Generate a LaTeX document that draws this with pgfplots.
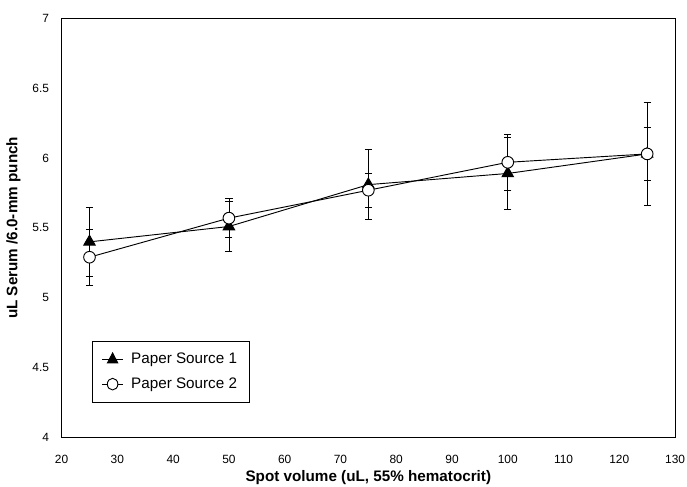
\documentclass[border=0pt]{standalone}
\usepackage{pgfplots}
\pgfplotsset{compat=1.18}
\usepackage{fontspec}
\setmainfont{Liberation Sans}

\pgfplotstableread{
x   y    ey
25  5.40 0.25
50  5.51 0.18
75  5.81 0.25
100 5.89 0.26
125 6.03 0.37
}\sourceone

\pgfplotstableread{
x   y    ey
25  5.29 0.20
50  5.57 0.14
75  5.77 0.12
100 5.97 0.20
125 6.03 0.19
}\sourcetwo

\begin{document}
\begin{tikzpicture}
\begin{axis}[
    name=ax,
    scale only axis,
    width=463pt, height=316pt,
    xmin=20, xmax=130, ymin=4, ymax=7,
    xtick={20,30,40,50,60,70,80,90,100,110,120,130},
    ytick={4,4.5,5,5.5,6,6.5,7},
    axis line style={line width=0.7pt},
    major tick length=0pt,
    /pgf/number format/assume math mode=true,
    ticklabel style={font=\fontsize{9}{10}\selectfont},
    xticklabel style={yshift=-10pt},
    yticklabel style={xshift=-6pt},
    xlabel={Spot volume (uL, 55\% hematocrit)},
    ylabel={uL Serum /6.0-mm punch},
    label style={font=\bfseries\fontsize{11.5}{13}\selectfont},
    xlabel style={yshift=2pt},
    ylabel style={yshift=2pt},
    legend style={at={(0.05,0.23)}, anchor=north west,
        font=\fontsize{11.5}{13}\selectfont, draw=black, line width=0.6pt,
        inner xsep=7pt, inner ysep=7pt, row sep=5pt, column sep=4pt},
    legend cell align=left,
    legend image post style={xscale=0.9},
]
\addplot[black, line width=0.7pt, mark=triangle*, mark size=5pt,
    mark options={fill=black, solid},
    error bars/.cd, y dir=both, y explicit,
    error bar style={line width=0.6pt, black},
    error mark options={rotate=90, mark size=2.7pt, line width=0.6pt, black}]
    table[x=x, y=y, y error=ey] {\sourceone};
\addlegendentry{Paper Source 1}
\addplot[black, line width=0.7pt, mark=*, mark size=4.4pt,
    mark options={fill=white, draw=black, solid},
    error bars/.cd, y dir=both, y explicit,
    error bar style={line width=0.6pt, black},
    error mark options={rotate=90, mark size=2.7pt, line width=0.6pt, black}]
    table[x=x, y=y, y error=ey] {\sourcetwo};
\addlegendentry{Paper Source 2}
\end{axis}
\pgfresetboundingbox
\path ([xshift=-46.5pt,yshift=-37.5pt]ax.south west) rectangle ([xshift=9pt,yshift=14pt]ax.north east);
\end{tikzpicture}
\end{document}
